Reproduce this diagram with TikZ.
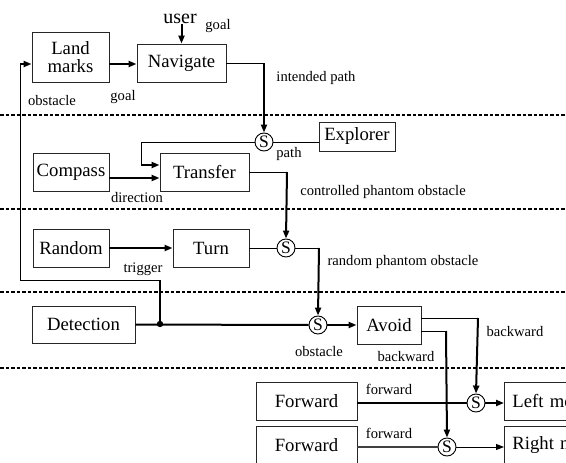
\documentclass[tikz,border=0pt]{standalone}
\usepackage{fontspec}
\setmainfont{Liberation Serif}
\usetikzlibrary{arrows.meta}
\begin{document}
\begin{tikzpicture}[x=1pt,y=-1pt,
  box/.style={draw=black!85,line width=0.9pt,inner sep=0pt,align=center,font=\fontsize{18.7}{20}\selectfont},
  sum/.style={draw,circle,line width=0.9pt,minimum size=18pt,inner sep=0pt,font=\fontsize{17.5}{17.5}\selectfont},
  lbl/.style={font=\fontsize{14.6}{15}\selectfont,inner sep=0pt},
  thin/.style={line width=1pt},
  thick/.style={line width=2pt},
  arr/.style={-{Triangle[length=8pt,width=6pt]}},
  sep/.style={line width=1.3pt,dash pattern=on 3.5pt off 2pt}]
\useasboundingbox (0,0) rectangle (566,463);
\clip (0,0) rectangle (566,463);
% separators
\draw[sep] (0,115) -- (566,115);
\draw[sep] (0,209) -- (566,209);
\draw[sep] (0,292) -- (566,292);
\draw[sep] (0,368) -- (566,368);
% boxes
\node[box,minimum width=77pt,minimum height=50pt] (land) at (70.5,57) {Land\\[-2pt]marks};
\node[box,minimum width=89pt,minimum height=38pt] (nav) at (181.5,63) {Navigate};
\node[box,minimum width=76pt,minimum height=38pt] (comp) at (71,172) {Compass};
\node[box,minimum width=89pt,minimum height=38pt] (trans) at (204.5,172) {Transfer};
\node[box,minimum width=76pt,minimum height=29pt] (expl) at (357,136.5) {Explorer};
\node[box,minimum width=76pt,minimum height=38pt] (rand) at (71,248) {Random};
\node[box,minimum width=76pt,minimum height=38pt] (turn) at (211,248) {Turn};
\node[box,minimum width=103pt,minimum height=37pt] (det) at (83.5,324.5) {Detection};
\node[box,minimum width=64pt,minimum height=38pt] (avoid) at (389,325) {Avoid};
\node[box,minimum width=101pt,minimum height=38pt] (fw1) at (306.5,401) {Forward};
\node[box,minimum width=101pt,minimum height=38pt] (fw2) at (306.5,445) {Forward};
\node[box,minimum width=110pt,minimum height=38pt,anchor=west,align=left,text width=100pt,inner xsep=8pt] (lm) at (504,401) {Left motor};
\node[box,minimum width=110pt,minimum height=38pt,anchor=west,align=left,text width=100pt,inner xsep=8pt] (rm) at (504,445) {Right motor};
% summing nodes
\node[sum] (s1) at (264,142) {S};
\node[sum] (s2) at (286,248) {S};
\node[sum] (s3) at (318,325) {S};
\node[sum] (s4) at (476,403) {S};
\node[sum] (s5) at (447,447) {S};
% texts
\node[inner sep=0pt,font=\fontsize{20}{20}\selectfont] (user) at (180,19) {user};
\node[lbl] (lgoal1) at (218,26) {goal};
\node[lbl] (lgoal2) at (123,97) {goal};
\node[lbl] (lobs1) at (52,101) {obstacle};
\node[lbl] (lint) at (316,78) {intended path};
\node[lbl] (lpath) at (289,154) {path};
\node[lbl] (ldir) at (137,198) {direction};
\node[lbl] (lcpo) at (383,192) {controlled phantom obstacle};
\node[lbl] (ltrig) at (143,269) {trigger};
\node[lbl] (lrpo) at (403,262) {random phantom obstacle};
\node[lbl] (lobs2) at (319,352) {obstacle};
\node[lbl] (lbw1) at (515,332) {backward};
\node[lbl] (lbw2) at (406,357) {backward};
\node[lbl] (lfw1) at (389,389) {forward};
\node[lbl] (lfw2) at (389,433) {forward};
% coordinates
\coordinate (c1) at (264,63);
\coordinate (c2) at (141,142);
\coordinate (c3) at (141,165);
\coordinate (c4) at (287,172);
\coordinate (c5) at (319,248);
\coordinate (j) at (160,324);
\coordinate (c6) at (160,280);
\coordinate (c7) at (20,280);
\coordinate (c8) at (20,64);
\coordinate (c9) at (478,318);
\coordinate (c10) at (446,331);
% connectors
\draw[thick,arr] (user.south -| nav.north) -- (nav.north);
\draw[thick,arr] (land.east |- c8) -- (nav.west |- c8);
\draw[thin] (nav.east) -- (c1);
\draw[thick,arr] (c1) -- (s1.north);
\draw[thin] (s1.west) -- (c2) -- (c3);
\draw[thick,arr] (c3) -- (trans.west |- c3);
\draw[thin] (s1.east) -- (expl.west |- s1);
\draw[thick,arr] (comp.east |- 0,178) -- (trans.west |- 0,178);
\draw[thin] (trans.east) -- (c4);
\draw[thick,arr] (c4) -- (s2.north);
\draw[thick,arr] (rand.east) -- (turn.west);
\draw[thin] (turn.east) -- (s2.west);
\draw[thin] (s2.east) -- (c5);
\draw[thick,arr] (c5) -- (s3.north);
\draw[thick] (det.east) -- (s3.west);
\draw[thick] (j) -- (c6);
\draw[thin] (c6) -- (c7) -- (c8);
\draw[thick,arr] (c8) -- (land.west |- c8);
\fill (j) circle (3.2pt);
\draw[thick,arr] (s3.east) -- (avoid.west);
\draw[thin] (avoid.east |- c9) -- (c9);
\draw[thick,arr] (c9) -- (s4.north);
\draw[thin] (avoid.east |- c10) -- (c10);
\draw[thick,arr] (c10) -- (s5.north);
\draw[thick] (fw1.east |- s4) -- (s4.west);
\draw[thick,arr] (s4.east) -- (lm.west |- s4);
\draw[line width=1.5pt,black!75] (fw2.east |- s5) -- (s5.west);
\draw[thin,arr] (s5.east) -- (rm.west |- s5);
\end{tikzpicture}
\end{document}
